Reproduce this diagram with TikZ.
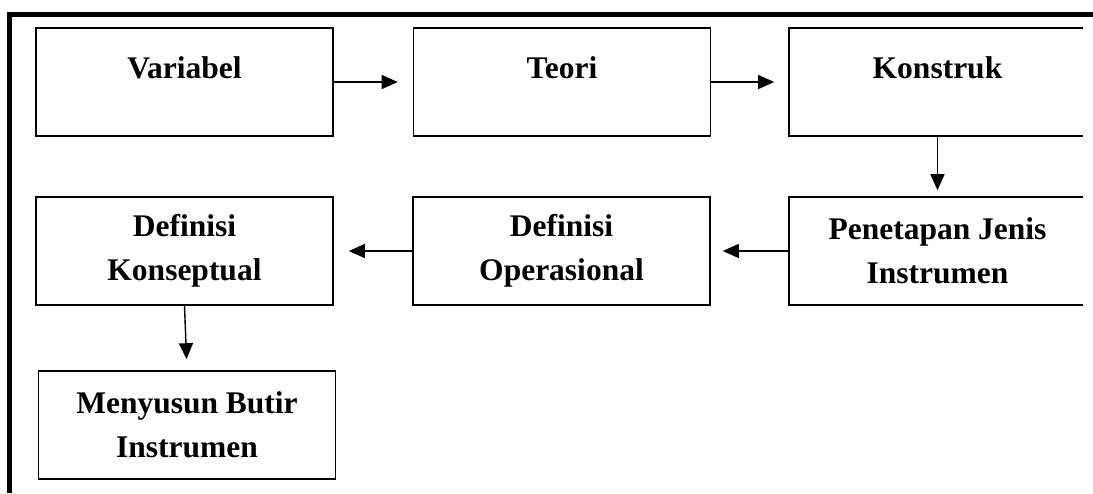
\documentclass[tikz,border=0pt]{standalone}
\usepackage{fontspec}
\setmainfont{Liberation Serif}
\usetikzlibrary{arrows.meta}
\tikzset{
	kotak/.style={draw, line width=1.6pt, minimum width=297pt, minimum height=108pt,
		inner sep=0pt, align=center, font=\fontsize{31.5}{44}\selectfont\bfseries},
	satubaris/.style={text height=22pt, text depth=30pt},
	panah/.style={line width=1.4pt, -{Triangle[length=16pt,width=14pt]}},
}
\begin{document}
\begin{tikzpicture}[x=1pt,y=-1pt]
\useasboundingbox (0,0) rectangle (1093,493);
\draw[line width=5pt] (9.5,493) -- (9.5,14.5) -- (1093,14.5);

\begin{scope}
\clip (0,0) rectangle (1083,493);
\node[kotak,satubaris] (var) at (184.5,82) {Variabel};
\node[kotak,satubaris] (teori) at (562,82) {Teori};
\node[kotak,satubaris] (kons) at (937.5,82) {Konstruk};
\node[kotak] (defkon) at (184.5,251) {Definisi\\Konseptual};
\node[kotak] (defop) at (561.5,251) {Definisi\\Operasional};
\node[kotak] (jenis) at (937.5,251) {Penetapan Jenis\\Instrumen};
\node[kotak] (butir) at (187,425) {Menyusun Butir\\Instrumen};
\end{scope}

\draw[panah, shorten >=15pt] (var) -- (teori);
\draw[panah, shorten >=14pt] (teori) -- (kons);
\draw[panah, shorten >=6pt] (kons.south) -- (jenis.north);
\draw[panah, shorten >=12pt] (jenis) -- (defop);
\draw[panah, shorten >=15pt] (defop) -- (defkon);
\draw[panah, shorten >=11pt] (defkon.south) -- (butir.north);
\end{tikzpicture}
\end{document}
